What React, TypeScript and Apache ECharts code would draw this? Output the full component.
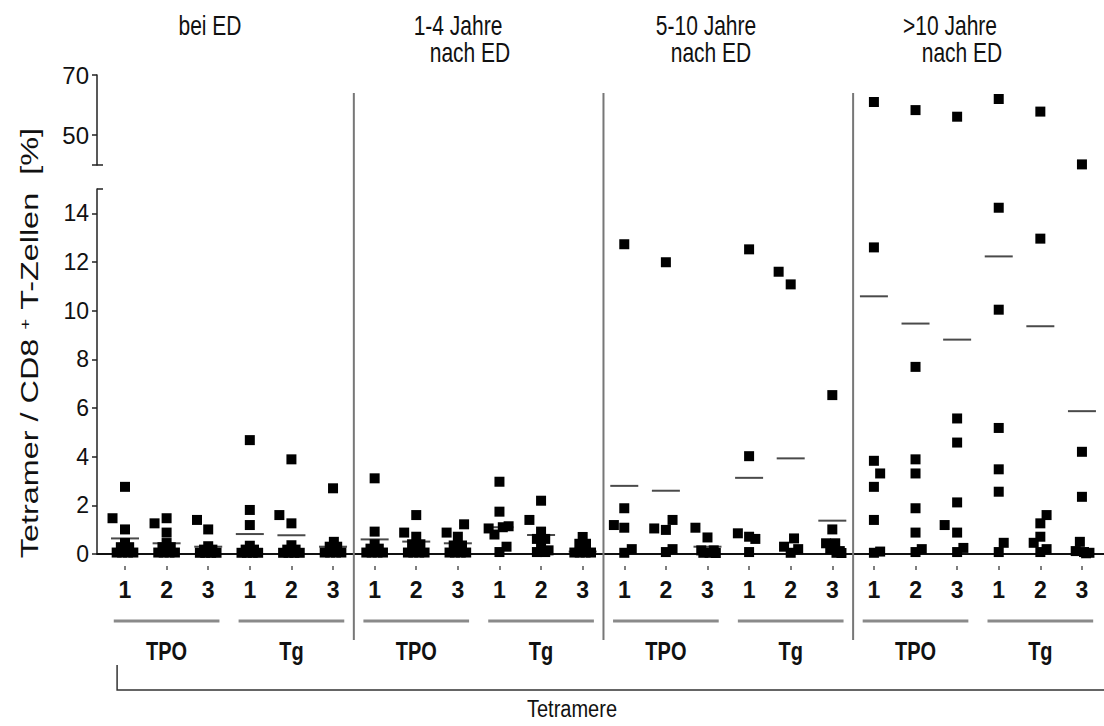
import React, { useEffect, useRef } from "react";
import * as echarts from "echarts";

const FONT = '"Liberation Sans", Arial, Helvetica, sans-serif';

// Titles of the four panels
const panelTitleTop = ["bei ED", "1-4 Jahre", "5-10 Jahre", ">10 Jahre"];
const panelTitleBottom = ["", "nach ED", "nach ED", "nach ED"];
// Tick labels
const tetramerLabels = ["1", "2", "3", "1", "2", "3"];
const antigenLabels = ["TPO", "Tg"];
const lowerTicks = [0, 2, 4, 6, 8, 10, 12, 14];
const upperTicks = [50, 70];

// Points per group: [jitter offset in category units, value %]
// group order in each panel: TPO1, TPO2, TPO3, Tg1, Tg2, Tg3
const beiED: [number, number][][] = [
  [[-0.3, 1.47], [0, 2.76], [0, 1.01], [0, 0.45], [-0.1, 0.28], [0.1, 0.28], [0, 0.18], [-0.2, 0.06], [-0.07, 0.06], [0.07, 0.06], [0.2, 0.06]],
  [[-0.29, 1.26], [0, 1.47], [0, 0.88], [0, 0.45], [-0.1, 0.28], [0.1, 0.28], [0, 0.18], [-0.2, 0.06], [-0.07, 0.06], [0.07, 0.06], [0.2, 0.06]],
  [[-0.27, 1.4], [0, 1.01], [0, 0.32], [-0.1, 0.18], [0.1, 0.18], [-0.2, 0.05], [-0.07, 0.05], [0.07, 0.05], [0.2, 0.05]],
  [[0, 4.68], [0, 1.81], [0, 1.19], [0, 0.34], [-0.1, 0.18], [0.1, 0.18], [-0.2, 0.05], [-0.07, 0.05], [0.07, 0.05], [0.2, 0.05]],
  [[0, 3.89], [-0.29, 1.6], [0, 1.26], [0, 0.36], [-0.1, 0.18], [0.1, 0.18], [-0.2, 0.05], [-0.07, 0.05], [0.07, 0.05], [0.2, 0.05]],
  [[0, 2.7], [0.02, 0.5], [-0.08, 0.3], [0.1, 0.3], [-0.2, 0.06], [-0.07, 0.06], [0.07, 0.06], [0.2, 0.06]],
];
const jahre1bis4: [number, number][][] = [
  [[0, 3.11], [0, 0.92], [0, 0.4], [-0.1, 0.22], [0.1, 0.22], [-0.2, 0.06], [-0.07, 0.06], [0.07, 0.06], [0.2, 0.06]],
  [[0, 1.6], [-0.29, 0.88], [0, 0.71], [-0.1, 0.4], [0.1, 0.4], [0, 0.25], [-0.2, 0.06], [-0.07, 0.06], [0.07, 0.06], [0.2, 0.06]],
  [[0.15, 1.22], [-0.27, 0.88], [0, 0.71], [-0.1, 0.35], [0.1, 0.35], [0, 0.2], [-0.2, 0.06], [-0.07, 0.06], [0.07, 0.06], [0.2, 0.06]],
  [[0, 2.97], [0, 1.74], [-0.26, 1.05], [-0.12, 0.8], [0.08, 1.1], [0.22, 1.14], [0.17, 0.3], [0, 0.08]],
  [[0, 2.19], [-0.28, 1.4], [0, 0.92], [-0.1, 0.62], [0.1, 0.62], [0, 0.38], [0.18, 0.15], [-0.1, 0.08], [0.1, 0.08]],
  [[0, 0.7], [-0.08, 0.42], [0.08, 0.42], [0, 0.25], [-0.2, 0.06], [-0.07, 0.06], [0.07, 0.06], [0.2, 0.06]],
];
const jahre5bis10: [number, number][][] = [
  [[0, 12.73], [0, 1.88], [-0.25, 1.19], [0, 1.08], [0.18, 0.2], [0, 0.05]],
  [[0, 11.99], [-0.28, 1.05], [0, 0.99], [0.16, 1.4], [0.16, 0.2], [0, 0.08]],
  [[-0.29, 1.08], [0, 0.68], [-0.15, 0.15], [0.15, 0.15], [-0.1, 0.05], [0.05, 0.05], [0.2, 0.04]],
  [[0, 12.52], [0, 4.02], [-0.27, 0.85], [0, 0.71], [0.15, 0.62], [0, 0.08]],
  [[-0.29, 11.6], [0, 11.08], [0.08, 0.64], [-0.16, 0.3], [0, 0.05], [0.18, 0.2]],
  [[0, 6.53], [0, 1.01], [-0.15, 0.44], [0.07, 0.44], [-0.05, 0.2], [0.18, 0.12], [0.1, 0.05], [0.22, 0.04]],
];
const jahreUeber10: [number, number][][] = [
  [[0, 61], [0, 12.6], [0, 3.83], [0.15, 3.31], [0, 2.76], [0, 1.4], [0, 0.05], [0.15, 0.1]],
  [[0, 58.3], [0, 7.69], [0, 3.89], [0, 3.31], [0, 1.88], [0, 0.88], [0, 0.08], [0.15, 0.2]],
  [[0, 56.1], [0, 5.57], [0, 4.58], [0, 2.12], [-0.3, 1.19], [0, 0.88], [0, 0.08], [0.15, 0.25]],
  [[0, 62], [0, 14.23], [0, 10.04], [0, 5.18], [0, 3.48], [0, 2.56], [0.12, 0.46], [0, 0.08]],
  [[0, 57.8], [0, 12.96], [0.15, 1.6], [0, 1.26], [0, 0.71], [-0.16, 0.46], [0, 0.08], [0.15, 0.2]],
  [[0, 40.2], [0, 4.2], [0, 2.35], [-0.05, 0.5], [-0.15, 0.12], [0.05, 0.08], [0.18, 0.05], [0.1, 0.03]],
];

// Mean values per group (short horizontal bars)
const meansBeiED = [0.64, 0.44, 0.3, 0.82, 0.77, 0.3];
const means1bis4 = [0.6, 0.51, 0.44, 1.1, 0.78, 0.1];
const means5bis10 = [2.8, 2.6, 0.3, 3.13, 3.93, 1.37];
const meansUeber10 = [10.59, 9.47, 8.81, 12.23, 9.36, 5.87];

const panels = [beiED, jahre1bis4, jahre5bis10, jahreUeber10];
const panelMeans = [meansBeiED, means1bis4, means5bis10, meansUeber10];

const X_MIN = -0.673;
const X_MAX = 23.53;

export default function App() {
  const ref = useRef<HTMLDivElement>(null);

  useEffect(() => {
    if (!ref.current) return;
    const chart = echarts.init(ref.current, null, { renderer: "svg" });

    const lowerPts: number[][] = [];
    const upperPts: number[][] = [];
    const meanPts: number[][] = [];
    panels.forEach((groups, p) => {
      groups.forEach((pts, g) => {
        const k = p * 6 + g;
        pts.forEach(([dx, v]) => {
          if (v > 20) upperPts.push([k + dx, v]);
          else lowerPts.push([k + dx, v]);
        });
        meanPts.push([k, panelMeans[p][g]]);
      });
    });
    const ks = Array.from({ length: 24 }, (_, i) => i);

    const baseY = {
      type: "value",
      position: "left",
      splitLine: { show: false },
    };

    chart.setOption({
      animation: false,
      backgroundColor: "#fff",
      grid: [
        { left: 97, right: 0, top: 189, height: 365 },
        { left: 97, right: 0, top: 75, height: 90 },
      ],
      xAxis: [
        {
          gridIndex: 0,
          type: "value",
          min: X_MIN,
          max: X_MAX,
          axisLine: { show: true, onZero: false, lineStyle: { color: "#111", width: 2 } },
          axisTick: { show: false },
          splitLine: { show: false },
          axisLabel: {
            customValues: ks,
            formatter: (v: number) => tetramerLabels[Math.round(v) % 6],
            fontSize: 23,
            fontFamily: FONT,
            fontWeight: "bold",
            color: "#111",
            margin: 24,
          },
        },
        { gridIndex: 1, type: "value", min: X_MIN, max: X_MAX, show: false },
        {
          gridIndex: 0,
          type: "value",
          min: X_MIN,
          max: X_MAX,
          position: "bottom",
          offset: 12,
          axisLine: { show: false, onZero: false },
          axisTick: { show: true, length: 4, customValues: ks, lineStyle: { color: "#555", width: 1.5 } },
          axisLabel: { show: false },
          splitLine: { show: false },
        },
      ],
      yAxis: [
        {
          ...baseY,
          gridIndex: 0,
          min: 0,
          max: 15,
          axisLine: { show: true, onZero: false, lineStyle: { color: "#222", width: 1.5 } },
          axisTick: { show: true, length: 5, customValues: lowerTicks, lineStyle: { color: "#222", width: 1.5 } },
          axisLabel: { customValues: lowerTicks, fontSize: 23, fontFamily: FONT, color: "#111", margin: 8 },
        },
        {
          ...baseY,
          gridIndex: 1,
          min: 40,
          max: 70,
          axisLine: { show: true, onZero: false, lineStyle: { color: "#222", width: 1.5 } },
          axisTick: { show: true, length: 5, customValues: [40, 50, 70], lineStyle: { color: "#222", width: 1.5 } },
          axisLabel: { customValues: upperTicks, fontSize: 24, fontFamily: FONT, color: "#111", margin: 8 },
        },
        {
          ...baseY,
          gridIndex: 0,
          min: 0,
          max: 15,
          axisLine: { show: false, onZero: false },
          axisTick: { show: true, inside: true, length: 6, customValues: [15], lineStyle: { color: "#222", width: 1.5 } },
          axisLabel: { show: false },
        },
        {
          ...baseY,
          gridIndex: 1,
          min: 40,
          max: 70,
          axisLine: { show: false, onZero: false },
          axisTick: { show: true, inside: true, length: 6, customValues: [40], lineStyle: { color: "#222", width: 1.5 } },
          axisLabel: { show: false },
        },
      ],
      series: [
        {
          type: "scatter",
          xAxisIndex: 0,
          yAxisIndex: 0,
          symbol: "rect",
          symbolSize: 10,
          itemStyle: { color: "#000", opacity: 1 },
          data: lowerPts,
          z: 3,
        },
        {
          type: "scatter",
          xAxisIndex: 1,
          yAxisIndex: 1,
          symbol: "rect",
          symbolSize: 10,
          itemStyle: { color: "#000", opacity: 1 },
          data: upperPts,
          z: 3,
        },
        {
          type: "scatter",
          xAxisIndex: 0,
          yAxisIndex: 0,
          symbol: "rect",
          symbolSize: [28, 2],
          itemStyle: { color: "#4a4a4a", opacity: 1 },
          data: meanPts,
          z: 2,
        },
      ],
    });

    const px = (v: number) => chart.convertToPixel({ xAxisIndex: 0 }, v) as number;
    const txt = (text: string, x: number, y: number, size: number, extra: any = {}) => ({
      type: "text",
      x,
      y,
      scaleY: extra.scaleY ?? 1.3,
      scaleX: extra.scaleX ?? 1,
      rotation: extra.rotation ?? 0,
      style: {
        text,
        fontSize: size,
        fontFamily: FONT,
        fontWeight: extra.fontWeight ?? "normal",
        fill: "#111",
        align: "center",
        verticalAlign: "middle",
        textAlign: "center",
        textVerticalAlign: "middle",
        rich: extra.rich,
      },
      z: 10,
    });

    const elements: any[] = [];
    const titleX = [210, 458, 706, 950];
    const subX = [0, 470, 711, 962];
    panelTitleTop.forEach((t, p) => {
      elements.push(txt(t, titleX[p], 25, 21));
      if (panelTitleBottom[p]) elements.push(txt(panelTitleBottom[p], subX[p], 52, 21));
    });
    // dividers
    [5.5, 11.5, 17.5].forEach((d) => {
      const x = px(d);
      elements.push({
        type: "line",
        shape: { x1: x, y1: 93, x2: x, y2: 640 },
        style: { stroke: "#777", lineWidth: 2 },
        z: 1,
      });
    });
    // antigen group lines + labels
    for (let p = 0; p < 4; p++) {
      antigenLabels.forEach((lab, a) => {
        const k0 = p * 6 + a * 3;
        elements.push({
          type: "line",
          shape: { x1: px(k0 - 0.27), y1: 621, x2: px(k0 + 2.27), y2: 621 },
          style: { stroke: "#8a8a8a", lineWidth: 3 },
        });
        elements.push(txt(lab, px(k0 + 1), 651, 20, { fontWeight: "bold" }));
      });
    }
    // bracket
    elements.push({
      type: "polyline",
      shape: { points: [[px(-0.19), 665], [px(-0.19), 690], [1104, 690]] },
      style: { stroke: "#333", lineWidth: 1.5, fill: null },
    });
    elements.push(txt("Tetramere", 572, 709, 20, { scaleY: 1.15 }));
    // y axis title
    elements.push(
      txt("Tetramer / CD8 {s|+} T-Zellen  [%]", 30, 343, 24, {
        rotation: Math.PI / 2,
        scaleX: 1.35,
        scaleY: 1,
        rich: { s: { fontSize: 14, fontFamily: FONT, fill: "#111", verticalAlign: "top" } },
      })
    );

    chart.setOption({ graphic: { elements } });

    return () => chart.dispose();
  }, []);

  return (
    <div
      ref={ref}
      style={{ position: "fixed", left: 0, top: 0, width: 1104, height: 726, background: "#fff" }}
    />
  );
}
